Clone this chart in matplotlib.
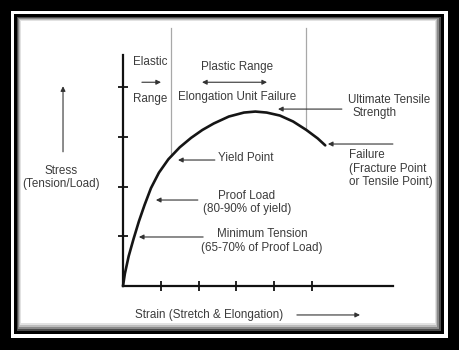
import matplotlib
matplotlib.use("Agg")
import matplotlib.pyplot as plt
from matplotlib.patches import Rectangle

# ---- data (strain / stress in tick units) ----
strain = [0, 0.05, 0.15, 0.28, 0.42, 0.57, 0.74, 0.95, 1.2, 1.5, 1.8, 2.1, 2.4,
          2.8, 3.2, 3.5, 3.8, 4.15, 4.5, 4.85, 5.15, 5.35]
stress = [0, 0.25, 0.6, 0.95, 1.3, 1.63, 1.97, 2.28, 2.55, 2.79, 2.98, 3.14, 3.27,
          3.41, 3.49, 3.51, 3.49, 3.43, 3.31, 3.14, 2.97, 2.83]
xticks = [1, 2, 3, 4, 5]
yticks = [1, 2, 3, 4]
x_axis_end = 7.14
y_axis_end = 4.65
elastic_limit = 1.27      # boundary elastic / plastic (x)
uts_line = 4.84           # boundary line near ultimate tensile (x)
top_of_lines = 5.19

plt.rcParams['font.family'] = ['Liberation Sans', 'DejaVu Sans']
TXT = '#3c3c3c'
FS = 8.4

W, H = 460, 350
fig = plt.figure(figsize=(W / 100, H / 100), dpi=100)
fig.patch.set_facecolor('black')


def frame_rect(x0, y0, x1, y1, color, z):
    r = Rectangle((x0 / W, 1 - y1 / H), (x1 - x0) / W, (y1 - y0) / H,
                  transform=fig.transFigure, facecolor=color, edgecolor='none',
                  zorder=z)
    fig.add_artist(r)


frame_rect(11, 11, 448, 338, 'white', -10)
frame_rect(14, 14, 444, 334, 'black', -9)
frame_rect(17, 17, 441, 331, '#4a4a4a', -8)
frame_rect(18, 18, 439, 329, '#8a8a8a', -7)
frame_rect(19, 19, 437, 327, '#bdbdbd', -6)
frame_rect(20, 20, 436, 325, '#e2e2e2', -5)
frame_rect(21, 21, 435, 323, 'white', -4)

ax = fig.add_axes([0, 0, 1, 1])
ax.set_facecolor('none')
ax.set_xlim(-3.254, 8.915)
ax.set_ylim(-1.288, 5.755)

for s in ['top', 'right']:
    ax.spines[s].set_visible(False)
ax.spines['left'].set_position(('data', 0))
ax.spines['bottom'].set_position(('data', 0))
ax.spines['left'].set_bounds(0, y_axis_end)
ax.spines['bottom'].set_bounds(0, x_axis_end)
for s in ['left', 'bottom']:
    ax.spines[s].set_linewidth(1.6)
    ax.spines[s].set_color('#111111')
ax.set_xticks(xticks)
ax.set_yticks(yticks)
ax.tick_params(direction='inout', length=6.5, width=1.3, color='#111111',
               labelbottom=False, labelleft=False)

# boundary lines
ax.plot([elastic_limit, elastic_limit], [2.61, top_of_lines], color='#a8a8a8', lw=0.9, zorder=1)
ax.plot([uts_line, uts_line], [3.14, top_of_lines], color='#a8a8a8', lw=0.9, zorder=1)

# curve
ax.plot(strain, stress, color='#151515', lw=1.9, solid_capstyle='round', zorder=3)

arrow = dict(arrowstyle='-|>', lw=0.8, color='#333333', mutation_scale=7,
             shrinkA=0, shrinkB=0)


def arr(tail, tip, style=None):
    p = dict(arrow)
    if style:
        p['arrowstyle'] = style
    ax.annotate('', xy=tip, xytext=tail, arrowprops=p)


def txt(x, y, s, ha='left'):
    ax.text(x, y, s, ha=ha, va='center', fontsize=FS, color=TXT)


# Elastic range
txt(0.26, 4.51, 'Elastic')
txt(0.26, 3.76, 'Range')
arr((0.50, 4.10), (1.005, 4.10))

# Plastic range
txt(3.02, 4.41, 'Plastic Range', ha='center')
arr((2.09, 4.10), (3.81, 4.10), style='<|-|>')
txt(3.02, 3.80, 'Elongation Unit Failure', ha='center')

# Ultimate tensile strength
txt(5.95, 3.74, 'Ultimate Tensile')
txt(6.06, 3.48, 'Strength')
arr((5.79, 3.56), (4.10, 3.56))

# Yield point
txt(2.51, 2.58, 'Yield Point')
arr((2.43, 2.535), (1.455, 2.535))

# Proof load
txt(3.28, 1.81, 'Proof Load', ha='center')
txt(3.28, 1.55, '(80-90% of yield)', ha='center')
arr((1.98, 1.73), (0.87, 1.73))

# Minimum tension
txt(3.68, 1.05, 'Minimum Tension', ha='center')
txt(3.68, 0.765, '(65-70% of Proof Load)', ha='center')
arr((2.12, 0.986), (0.42, 0.986))

# Failure
txt(5.98, 2.64, 'Failure')
txt(5.98, 2.35, '(Fracture Point')
txt(5.98, 2.09, 'or Tensile Point)')
arr((7.14, 2.857), (5.42, 2.857))

# Stress label
txt(-1.64, 2.31, 'Stress', ha='center')
txt(-1.64, 2.05, '(Tension/Load)', ha='center')
arr((-1.587, 2.70), (-1.587, 4.02))

# Strain label
txt(0.317, -0.583, 'Strain (Stretch & Elongation)')
arr((4.60, -0.583), (6.27, -0.583))

fig.savefig('out.png', dpi=100)
